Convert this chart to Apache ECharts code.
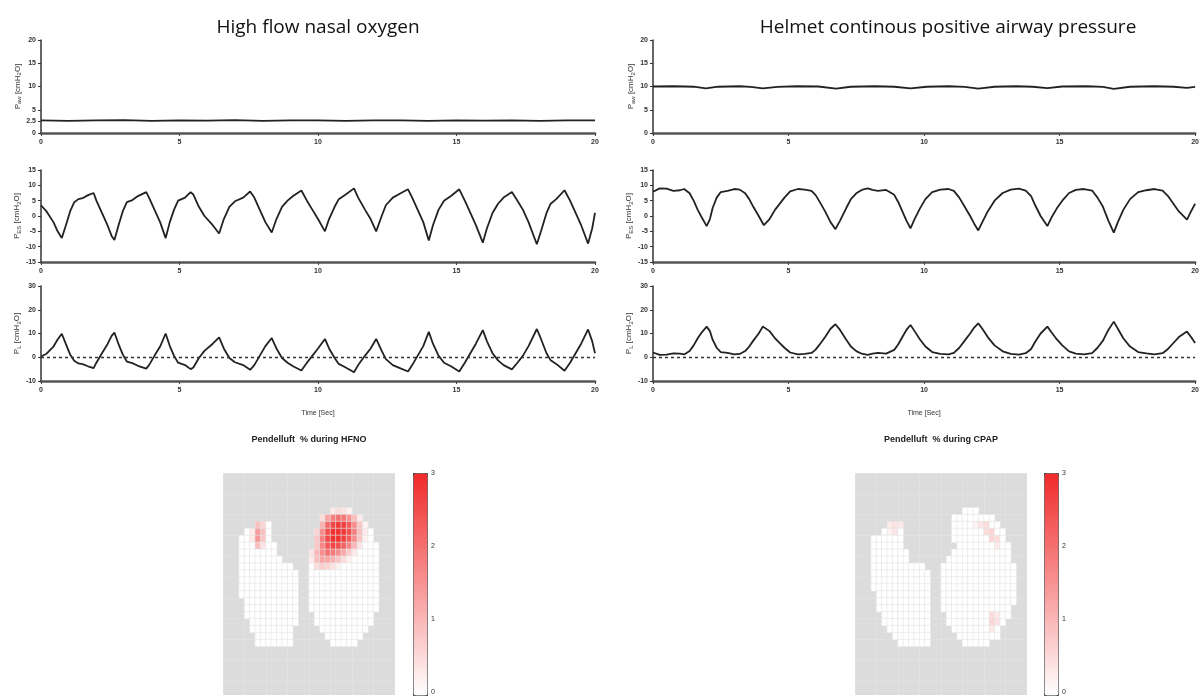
<!DOCTYPE html>
<html>
<head>
<meta charset="utf-8">
<title>Pendelluft HFNO vs CPAP</title>
<script src="https://cdn.jsdelivr.net/npm/echarts@6/dist/echarts.min.js"></script>
<style>
  html, body { margin: 0; padding: 0; background: #fff; }
  #chart { width: 1202px; height: 696px; }
</style>
</head>
<body>
<div id="chart"></div>
<script>
// time ticks shared by every trace panel
const timeTicks = [0, 5, 10, 15, 20]
const pawTicksHfno = [0, 2.5, 5, 10, 15, 20]
const pawTicksCpap = [0, 5, 10, 15, 20]
const pesTicks = [-15, -10, -5, 0, 5, 10, 15]
const plTicks = [-10, 0, 10, 20, 30]

// traces: [time s, cmH2O]
const hfnoPaw = [[0, 2.7], [1, 2.6], [2, 2.7], [3, 2.75], [4, 2.6], [5, 2.7], [6, 2.65], [7, 2.75], [8, 2.6], [9, 2.7], [10, 2.7],
  [11, 2.6], [12, 2.7], [13, 2.7], [14, 2.6], [15, 2.7], [16, 2.65], [17, 2.7], [18, 2.6], [19, 2.7], [20, 2.7]]

const hfnoPes = [[0, 3.5], [0.2, 1.5], [0.45, -2], [0.6, -5], [0.75, -7.2], [0.9, -3], [1.05, 1.5], [1.2, 4.5], [1.35, 5.5],
  [1.5, 5.8], [1.7, 6.8], [1.9, 7.5], [2.0, 5], [2.2, 1], [2.4, -3], [2.55, -6.5], [2.65, -7.8], [2.8, -3], [2.95, 1.5],
  [3.1, 4.5], [3.3, 5.2], [3.5, 6.5], [3.8, 7.8], [3.9, 6], [4.1, 2], [4.3, -2], [4.5, -7.2], [4.65, -2], [4.8, 2], [4.95, 5],
  [5.2, 6], [5.4, 7.8], [5.5, 7], [5.7, 3], [5.9, 0], [6.2, -3], [6.43, -5.7], [6.6, -1], [6.8, 3], [7.0, 4.8], [7.3, 6],
  [7.55, 8], [7.7, 6], [7.9, 2], [8.1, -2], [8.33, -5.4], [8.5, -1], [8.7, 3], [8.9, 5], [9.1, 6.5], [9.4, 8.3], [9.6, 5],
  [9.8, 2], [10.0, -1], [10.25, -5], [10.4, -1], [10.6, 3], [10.75, 5.5], [11.0, 7], [11.3, 9], [11.45, 6], [11.7, 2],
  [11.9, -1], [12.1, -5], [12.3, 0], [12.45, 3.5], [12.7, 6], [13.0, 7.5], [13.25, 8.7], [13.4, 6], [13.6, 2], [13.8, -2],
  [14.0, -8], [14.15, -3], [14.35, 2], [14.55, 5], [14.8, 6.5], [15.1, 8.7], [15.3, 5], [15.5, 1], [15.7, -3], [15.95, -8.7],
  [16.1, -4], [16.3, 1], [16.5, 4], [16.7, 6], [17.0, 7.8], [17.2, 5], [17.4, 2], [17.6, -2], [17.9, -9.2], [18.05, -5],
  [18.25, 1], [18.4, 4], [18.6, 5.5], [18.9, 8.4], [19.1, 5], [19.3, 1], [19.5, -3], [19.75, -9], [19.9, -4], [20, 1]]

const hfnoPl = [[0, 0.3], [0.2, 1.5], [0.45, 4.5], [0.6, 7.5], [0.75, 9.9], [0.9, 5.5], [1.05, 1.2], [1.2, -1.5], [1.35, -2.6],
  [1.5, -2.9], [1.7, -3.8], [1.9, -4.6], [2.0, -2.3], [2.2, 1.7], [2.4, 5.5], [2.55, 9], [2.65, 10.4], [2.8, 5.5], [2.95, 1.2],
  [3.1, -1.8], [3.3, -2.5], [3.5, -3.6], [3.8, -4.8], [3.9, -3.3], [4.1, 0.7], [4.3, 4.5], [4.5, 10], [4.65, 4.7], [4.8, 0.7],
  [4.95, -2.3], [5.2, -3.3], [5.4, -5], [5.5, -4.3], [5.7, -0.3], [5.9, 2.7], [6.2, 5.7], [6.43, 8.4], [6.6, 3.7], [6.8, -0.3],
  [7.0, -2.1], [7.3, -3.3], [7.55, -5.3], [7.7, -3.3], [7.9, 0.7], [8.1, 4.7], [8.33, 8.1], [8.5, 3.7], [8.7, -0.3], [8.9, -2.3],
  [9.1, -3.8], [9.4, -5.6], [9.6, -2.3], [9.8, 0.7], [10.0, 3.7], [10.25, 7.7], [10.4, 3.7], [10.6, -0.3], [10.75, -2.8],
  [11.0, -4.3], [11.3, -6.3], [11.45, -3.3], [11.7, 0.7], [11.9, 3.7], [12.1, 7.7], [12.3, 2.7], [12.45, -0.8], [12.7, -3.3],
  [13.0, -4.8], [13.25, -6], [13.4, -3.3], [13.6, 0.7], [13.8, 4.7], [14.0, 10.7], [14.15, 5.7], [14.35, 0.7], [14.55, -2.3],
  [14.8, -3.8], [15.1, -6], [15.3, -2.3], [15.5, 1.7], [15.7, 5.7], [15.95, 11.4], [16.1, 6.7], [16.3, 1.7], [16.5, -1.3],
  [16.7, -3.3], [17.0, -5.1], [17.2, -2.3], [17.4, 0.7], [17.6, 4.7], [17.9, 11.9], [18.05, 7.7], [18.25, 1.7], [18.4, -1.3],
  [18.6, -2.8], [18.9, -5.7], [19.1, -2.3], [19.3, 1.7], [19.5, 5.7], [19.75, 11.7], [19.9, 6.7], [20, 1.7]]

const cpapPaw = [[0, 10], [0.8, 10.05], [1.5, 9.95], [1.95, 9.6], [2.4, 9.95], [3.2, 10.05], [3.6, 9.9], [4.05, 9.6], [4.6, 9.9],
  [5.3, 10.05], [6.1, 10], [6.75, 9.55], [7.3, 9.95], [8.2, 10.05], [8.9, 9.95], [9.5, 9.6], [10.1, 9.95], [10.9, 10.05],
  [11.5, 9.9], [12.0, 9.55], [12.6, 9.95], [13.4, 10.05], [14.0, 9.95], [14.55, 9.65], [15.1, 10], [16.0, 10.05], [16.6, 9.9],
  [17.0, 9.5], [17.6, 9.95], [18.5, 10.05], [19.2, 9.95], [19.7, 9.7], [20, 9.9]]

const cpapPes = [[0, 7.9], [0.25, 9], [0.5, 8.9], [0.75, 8.2], [1.0, 8.4], [1.15, 8.8], [1.35, 7.4], [1.5, 5], [1.65, 2],
  [1.8, -0.5], [1.98, -3.3], [2.1, -1], [2.2, 2.6], [2.35, 6], [2.5, 7.8], [2.75, 8.2], [3.0, 8.8], [3.2, 8.6], [3.4, 7.4],
  [3.55, 5.5], [3.7, 3], [3.9, 0], [4.09, -3], [4.3, -1], [4.5, 2], [4.65, 3.7], [4.85, 6], [5.06, 8], [5.35, 8.8], [5.6, 8.6],
  [5.85, 8.2], [6.0, 6.8], [6.15, 4.6], [6.35, 1.5], [6.55, -2], [6.73, -4.3], [6.9, -1.5], [7.13, 2.6], [7.3, 5.5], [7.5, 7.4],
  [7.7, 8.5], [7.92, 9], [8.1, 8.5], [8.3, 8.2], [8.6, 8.5], [8.9, 6.9], [9.05, 4.5], [9.2, 1.5], [9.35, -1.5], [9.5, -4],
  [9.65, -1], [9.85, 2.5], [10.05, 5.5], [10.3, 7.8], [10.6, 8.6], [10.9, 8.8], [11.1, 8.2], [11.3, 6], [11.5, 3], [11.7, 0],
  [11.85, -2.5], [12.0, -4.7], [12.15, -2], [12.35, 1.5], [12.6, 5], [12.9, 7.5], [13.2, 8.6], [13.5, 8.9], [13.75, 8.3],
  [13.95, 6.5], [14.1, 3.5], [14.3, 0], [14.55, -3.3], [14.7, -0.5], [14.9, 2.5], [15.1, 5], [15.35, 7.5], [15.6, 8.5],
  [15.9, 8.8], [16.2, 8.3], [16.4, 6], [16.6, 3], [16.8, -1.5], [17.0, -5.4], [17.15, -2], [17.35, 2], [17.6, 5.5], [17.9, 7.8],
  [18.2, 8.4], [18.5, 8.8], [18.8, 8.3], [19.0, 6.5], [19.2, 4], [19.4, 1.5], [19.7, -1.2], [19.85, 1.5], [20, 4]]

const cpapPl = [[0, 2], [0.25, 1], [0.5, 1.1], [0.75, 1.6], [1.0, 1.5], [1.15, 1.2], [1.35, 2.6], [1.5, 5], [1.65, 8],
  [1.8, 10.5], [1.98, 12.9], [2.1, 11], [2.2, 7.4], [2.35, 4], [2.5, 2.2], [2.75, 1.8], [3.0, 1.2], [3.2, 1.4], [3.4, 2.6],
  [3.55, 4.5], [3.7, 7], [3.9, 10], [4.05, 12.9], [4.3, 11], [4.5, 8], [4.65, 6.3], [4.85, 4], [5.06, 2], [5.35, 1.2],
  [5.6, 1.4], [5.85, 1.8], [6.0, 3.2], [6.15, 5.4], [6.35, 8.5], [6.55, 12], [6.73, 13.9], [6.9, 11.5], [7.13, 7.4], [7.3, 4.5],
  [7.5, 2.6], [7.7, 1.5], [7.92, 1], [8.1, 1.5], [8.3, 1.8], [8.6, 1.5], [8.9, 3.1], [9.05, 5.5], [9.2, 8.5], [9.35, 11.5],
  [9.5, 13.6], [9.65, 11], [9.85, 7.5], [10.05, 4.5], [10.3, 2.2], [10.6, 1.4], [10.9, 1.2], [11.1, 1.8], [11.3, 4], [11.5, 7],
  [11.7, 10], [11.85, 12.5], [12.0, 14.3], [12.15, 12], [12.35, 8.5], [12.6, 5], [12.9, 2.5], [13.2, 1.4], [13.5, 1.1],
  [13.75, 1.7], [13.95, 3.5], [14.1, 6.5], [14.3, 10], [14.55, 12.9], [14.7, 10.5], [14.9, 7.5], [15.1, 5], [15.35, 2.5],
  [15.6, 1.5], [15.9, 1.2], [16.2, 1.7], [16.4, 4], [16.6, 7], [16.8, 11.5], [17.0, 15], [17.15, 12], [17.35, 8], [17.6, 4.5],
  [17.9, 2.2], [18.2, 1.6], [18.5, 1.2], [18.8, 1.7], [19.0, 3.5], [19.2, 6], [19.4, 8.5], [19.7, 10.8], [19.85, 8.5], [20, 6]]

// EIT 32x32 maps: lung rows as [row, firstCol, lastCol]
const hfnoLungRows = [[7, 6, 8], [8, 4, 8], [9, 3, 8], [10, 3, 9], [11, 3, 9], [12, 3, 10], [13, 3, 12], [14, 3, 13],
  [15, 3, 13], [16, 3, 13], [17, 3, 13], [18, 4, 13], [19, 4, 13], [20, 4, 13], [21, 5, 13], [22, 5, 12], [23, 6, 12], [24, 6, 12],
  [5, 20, 23], [6, 18, 25], [7, 18, 26], [8, 17, 27], [9, 17, 27], [10, 17, 28], [11, 16, 28], [12, 16, 28], [13, 16, 28],
  [14, 16, 28], [15, 16, 28], [16, 16, 28], [17, 16, 28], [18, 16, 28], [19, 16, 28], [20, 17, 27], [21, 17, 27], [22, 18, 26],
  [23, 19, 25], [24, 20, 24]]
const cpapLungRows = [[7, 6, 8], [8, 5, 8], [9, 3, 8], [10, 3, 8], [11, 3, 9], [12, 3, 9], [13, 3, 12], [14, 3, 13],
  [15, 3, 13], [16, 3, 13], [17, 4, 13], [18, 4, 13], [19, 4, 13], [20, 5, 13], [21, 5, 13], [22, 6, 13], [23, 7, 13], [24, 8, 13],
  [5, 20, 22], [6, 18, 25], [7, 18, 26], [8, 18, 27], [9, 18, 27], [10, 19, 28], [11, 18, 28], [12, 17, 28], [13, 16, 29],
  [14, 16, 29], [15, 16, 29], [16, 16, 29], [17, 16, 29], [18, 16, 29], [19, 16, 28], [20, 17, 28], [21, 17, 27], [22, 18, 26],
  [23, 19, 26], [24, 20, 24]]

// pendelluft % for the non-zero pixels: [col, row, value]
const hfnoPendelluft = [[6, 7, 0.9], [7, 7, 0.6], [5, 8, 0.3], [6, 8, 1.4], [7, 8, 0.9], [5, 9, 0.3], [6, 9, 1.5], [7, 9, 0.8],
  [6, 10, 0.9], [7, 10, 0.4],
  [20, 5, 0.3], [21, 5, 0.5], [22, 5, 0.4], [23, 5, 0.2],
  [18, 6, 0.5], [19, 6, 1.3], [20, 6, 1.8], [21, 6, 2.0], [22, 6, 1.9], [23, 6, 1.5], [24, 6, 0.9], [25, 6, 0.3],
  [18, 7, 1.1], [19, 7, 2.1], [20, 7, 2.6], [21, 7, 2.8], [22, 7, 2.7], [23, 7, 2.3], [24, 7, 1.6], [25, 7, 0.8], [26, 7, 0.2],
  [17, 8, 0.6], [18, 8, 1.6], [19, 8, 2.5], [20, 8, 2.9], [21, 8, 2.9], [22, 8, 2.8], [23, 8, 2.5], [24, 8, 1.8], [25, 8, 0.9], [26, 8, 0.3],
  [17, 9, 0.8], [18, 9, 1.8], [19, 9, 2.6], [20, 9, 2.9], [21, 9, 2.9], [22, 9, 2.7], [23, 9, 2.3], [24, 9, 1.6], [25, 9, 0.8], [26, 9, 0.2],
  [17, 10, 0.8], [18, 10, 1.7], [19, 10, 2.4], [20, 10, 2.6], [21, 10, 2.5], [22, 10, 2.2], [23, 10, 1.7], [24, 10, 1.0], [25, 10, 0.4],
  [16, 11, 0.4], [17, 11, 1.0], [18, 11, 1.6], [19, 11, 2.0], [20, 11, 1.9], [21, 11, 1.6], [22, 11, 1.2], [23, 11, 0.7], [24, 11, 0.3],
  [16, 12, 0.3], [17, 12, 0.9], [18, 12, 1.3], [19, 12, 1.3], [20, 12, 1.1], [21, 12, 0.8], [22, 12, 0.5], [23, 12, 0.2],
  [17, 13, 0.5], [18, 13, 0.7], [19, 13, 0.6], [20, 13, 0.4], [21, 13, 0.2]]
const cpapPendelluft = [[6, 7, 0.3], [7, 7, 0.4], [8, 7, 0.3], [7, 8, 0.4], [6, 8, 0.2],
  [22, 7, 0.2], [23, 7, 0.4], [24, 7, 0.5], [24, 8, 0.5], [25, 8, 0.6], [25, 9, 0.6], [26, 9, 0.5], [26, 10, 0.3],
  [25, 20, 0.5], [26, 20, 0.3], [25, 21, 0.6], [26, 21, 0.4], [25, 22, 0.3]]

const pixels = Array.from({ length: 32 }, (_, i) => i)

function lungCells(rows, hot) {
  const cells = []
  rows.forEach(([row, c0, c1]) => {
    for (let c = c0; c <= c1; c++) {
      const h = hot.find((p) => p[0] === c && p[1] === row)
      cells.push([c, row, h ? h[2] : 0])
    }
  })
  return cells
}

const tickFont = { fontSize: 7, color: '#333', fontWeight: 'bold', fontFamily: 'Liberation Sans' }
const nameRich = {
  t: { fontSize: 8, color: '#333', fontFamily: 'Liberation Sans' },
  s: { fontSize: 6, color: '#333', fontFamily: 'Liberation Sans', padding: [4, 0, 0, 0] }
}

function timeAxis(gridIndex, withName) {
  return {
    type: 'value',
    gridIndex: gridIndex,
    min: 0,
    max: 20,
    interval: 5,
    name: withName ? 'Time [Sec]' : '',
    nameLocation: 'middle',
    nameGap: 29,
    nameTextStyle: { fontSize: 7, color: '#333', fontFamily: 'Liberation Sans' },
    axisLine: { onZero: false, lineStyle: { color: '#555', width: 2.5 } },
    axisTick: { length: 3, lineStyle: { color: '#444' } },
    axisLabel: Object.assign({ margin: 6, customValues: timeTicks }, tickFont),
    splitLine: { show: false }
  }
}

function pressureAxis(gridIndex, min, max, ticks, name) {
  return {
    type: 'value',
    gridIndex: gridIndex,
    min: min,
    max: max,
    name: name,
    nameLocation: 'middle',
    nameRotate: 90,
    nameGap: 17,
    nameTextStyle: { rich: nameRich },
    axisLine: { show: true, onZero: false, lineStyle: { color: '#333', width: 1.5 } },
    axisTick: { show: true, length: 3, customValues: ticks, lineStyle: { color: '#333' } },
    axisLabel: Object.assign({ margin: 5, customValues: ticks }, tickFont),
    splitLine: { show: false }
  }
}

function pixelAxis(gridIndex, inverse) {
  return {
    type: 'category',
    gridIndex: gridIndex,
    data: pixels,
    inverse: inverse,
    axisLine: { show: false },
    axisTick: { show: false },
    axisLabel: { show: false },
    splitLine: { show: true, lineStyle: { color: 'rgba(255,255,255,0.3)', width: 0.5 } }
  }
}

function barAxis(gridIndex) {
  return {
    type: 'value',
    gridIndex: gridIndex,
    min: 0,
    max: 3,
    interval: 1,
    position: 'right',
    axisLine: { show: false },
    axisTick: { show: true, length: 3, lineStyle: { color: '#333' } },
    axisLabel: Object.assign({ margin: 4 }, tickFont, { fontWeight: 'normal' }),
    splitLine: { show: false }
  }
}

function trace(index, data, zeroLine) {
  const s = {
    type: 'line',
    xAxisIndex: index,
    yAxisIndex: index,
    data: data,
    showSymbol: false,
    symbol: 'none',
    lineStyle: { color: '#222', width: 1.8 },
    z: 3
  }
  if (zeroLine) {
    s.markLine = {
      silent: true,
      symbol: 'none',
      label: { show: false },
      lineStyle: { type: [3, 3], color: '#333', width: 1.3 },
      data: [{ yAxis: 0 }]
    }
  }
  return s
}

const pendelColors = ['#ffffff', '#f02a2a']

const option = {
  animation: false,
  backgroundColor: '#ffffff',
  grid: [
    { left: 41, top: 40, width: 554, height: 93 },
    { left: 41, top: 170, width: 554, height: 92 },
    { left: 41, top: 286, width: 554, height: 95 },
    { left: 653, top: 40, width: 548, height: 93 },
    { left: 653, top: 170, width: 548, height: 92 },
    { left: 653, top: 286, width: 548, height: 95 },
    { left: 223, top: 473, width: 172, height: 222, show: true, backgroundColor: '#dcdcdc', borderWidth: 0 },
    { left: 855, top: 473, width: 172, height: 222, show: true, backgroundColor: '#dcdcdc', borderWidth: 0 },
    { left: 413, top: 473, width: 14, height: 222 },
    { left: 1044, top: 473, width: 14, height: 222 }
  ],
  xAxis: [
    timeAxis(0, false), timeAxis(1, false), timeAxis(2, true),
    timeAxis(3, false), timeAxis(4, false), timeAxis(5, true),
    pixelAxis(6, false), pixelAxis(7, false),
    { type: 'value', gridIndex: 8, show: false },
    { type: 'value', gridIndex: 9, show: false }
  ],
  yAxis: [
    pressureAxis(0, 0, 20, pawTicksHfno, '{t|P}{s|aw}{t| [cmH}{s|2}{t|O]}'),
    pressureAxis(1, -15, 15, pesTicks, '{t|P}{s|ES}{t| [cmH}{s|2}{t|O]}'),
    pressureAxis(2, -10, 30, plTicks, '{t|P}{s|L}{t| [cmH}{s|2}{t|O]}'),
    pressureAxis(3, 0, 20, pawTicksCpap, '{t|P}{s|aw}{t| [cmH}{s|2}{t|O]}'),
    pressureAxis(4, -15, 15, pesTicks, '{t|P}{s|ES}{t| [cmH}{s|2}{t|O]}'),
    pressureAxis(5, -10, 30, plTicks, '{t|P}{s|L}{t| [cmH}{s|2}{t|O]}'),
    pixelAxis(6, true), pixelAxis(7, true),
    barAxis(8), barAxis(9)
  ],
  visualMap: [
    {
      type: 'continuous', seriesIndex: 6, min: 0, max: 3, calculable: false, realtime: false,
      left: 413, top: 473, itemWidth: 14, itemHeight: 222, padding: 0, text: null, showLabel: false,
      borderColor: '#444', borderWidth: 1,
      inRange: { color: pendelColors }
    },
    {
      type: 'continuous', seriesIndex: 7, min: 0, max: 3, calculable: false, realtime: false,
      left: 1044, top: 473, itemWidth: 14, itemHeight: 222, padding: 0, text: null, showLabel: false,
      borderColor: '#444', borderWidth: 1,
      inRange: { color: pendelColors }
    }
  ],
  graphic: [
    { type: 'text', x: 318, y: 28, style: { text: 'High flow nasal oxygen', align: 'center', verticalAlign: 'middle', fontSize: 19, fontFamily: 'Open Sans', fill: '#111' } },
    { type: 'text', x: 948, y: 28, style: { text: 'Helmet continous positive airway pressure', align: 'center', verticalAlign: 'middle', fontSize: 19, fontFamily: 'Open Sans', fill: '#111' } },
    { type: 'text', x: 309, y: 440, style: { text: 'Pendelluft  % during HFNO', align: 'center', verticalAlign: 'middle', fontSize: 9, fontWeight: 'bold', fontFamily: 'Liberation Sans', fill: '#222' } },
    { type: 'text', x: 941, y: 440, style: { text: 'Pendelluft  % during CPAP', align: 'center', verticalAlign: 'middle', fontSize: 9, fontWeight: 'bold', fontFamily: 'Liberation Sans', fill: '#222' } }
  ],
  series: [
    trace(0, hfnoPaw, false),
    trace(1, hfnoPes, false),
    trace(2, hfnoPl, true),
    trace(3, cpapPaw, false),
    trace(4, cpapPes, false),
    trace(5, cpapPl, true),
    {
      type: 'heatmap', xAxisIndex: 6, yAxisIndex: 6,
      data: lungCells(hfnoLungRows, hfnoPendelluft),
      itemStyle: { borderColor: '#e4e4e4', borderWidth: 0.6 },
      emphasis: { disabled: true }
    },
    {
      type: 'heatmap', xAxisIndex: 7, yAxisIndex: 7,
      data: lungCells(cpapLungRows, cpapPendelluft),
      itemStyle: { borderColor: '#e4e4e4', borderWidth: 0.6 },
      emphasis: { disabled: true }
    }
  ]
}

const chart = echarts.init(document.getElementById('chart'))
chart.setOption(option)
</script>
</body>
</html>
